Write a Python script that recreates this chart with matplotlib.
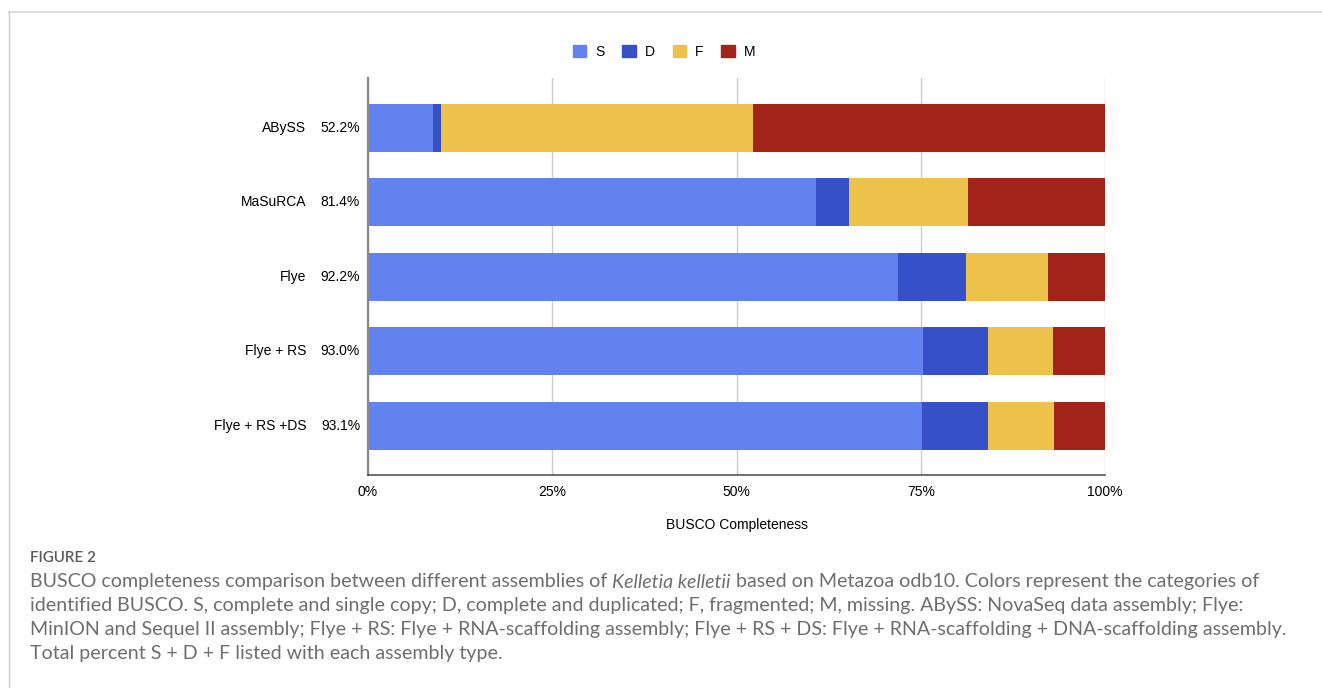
import matplotlib.pyplot as plt
import numpy as np
from matplotlib.lines import Line2D
from matplotlib.patches import Patch

assemblies = ["ABySS", "MaSuRCA", "Flye", "Flye + RS", "Flye + RS +DS"]
totals = ["52.2%", "81.4%", "92.2%", "93.0%", "93.1%"]
s_vals = [8.8, 60.8, 71.9, 75.3, 75.2]
d_vals = [1.1, 4.5, 9.2, 8.8, 8.9]
f_vals = [42.3, 16.1, 11.1, 8.9, 9.0]
m_vals = [47.8, 18.6, 7.8, 7.0, 6.9]
series = ["S", "D", "F", "M"]
colors = ["#6283ef", "#3651c8", "#ecc24a", "#a2231a"]

plt.rcParams['font.family'] = ['Liberation Sans', 'DejaVu Sans']

W, H = 1322, 688
fig = plt.figure(figsize=(W / 100, H / 100), dpi=100)
ax = fig.add_axes([368 / W, 1 - 475 / H, 737 / W, 397 / H])

y = np.arange(len(assemblies))
left = np.zeros(len(assemblies))
for name, vals, c in zip(series, [s_vals, d_vals, f_vals, m_vals], colors):
    ax.barh(y, vals, left=left, height=0.645, color=c, label=name, zorder=2)
    left += np.array(vals)

ax.set_xlim(0, 100)
ax.set_ylim(len(assemblies) - 0.34, -0.67)
ax.set_xticks([0, 25, 50, 75, 100])
ax.set_xticklabels(["0%", "25%", "50%", "75%", "100%"], fontsize=10)
ax.set_yticks([])
ax.tick_params(axis='x', length=0, pad=7)
ax.grid(axis='x', color='#cccccc', linewidth=1, zorder=0)
for sp in ["top", "right"]:
    ax.spines[sp].set_visible(False)
ax.spines["left"].set_color("#888888")
ax.spines["left"].set_linewidth(1.6)
ax.spines["bottom"].set_color("#555555")
ax.spines["bottom"].set_linewidth(1.2)
ax.set_xlabel("BUSCO Completeness", fontsize=10, labelpad=14)

trans = ax.get_yaxis_transform()
for yi, name, tot in zip(y, assemblies, totals):
    ax.text(-62 / 737, yi, name, transform=trans, ha='right', va='center', fontsize=10)
    ax.text(-8 / 737, yi, tot, transform=trans, ha='right', va='center', fontsize=10)

handles = [Patch(color=c) for c in colors]
fig.legend(handles, series, loc='center', bbox_to_anchor=(664 / W, 1 - 52 / H), ncol=4,
           frameon=False, fontsize=10, handlelength=0.95, handleheight=0.95,
           handletextpad=0.65, columnspacing=1.3)

# frame lines
fig.add_artist(Line2D([9 / W, 1], [1 - 12 / H, 1 - 12 / H], color='#dddddd', linewidth=1.5))
fig.add_artist(Line2D([9 / W, 9 / W], [0, 1 - 12 / H], color='#cccccc', linewidth=1))

# caption
cap_font = ['Lato', 'DejaVu Sans']
gray = '#6e6e6e'
x0 = 30 / W
fig.text(x0, 1 - 558 / H, "FIGURE 2", fontsize=11, color='#5a5a5a', family=cap_font,
         weight='semibold', va='center')

fig.canvas.draw()
renderer = fig.canvas.get_renderer()
parts = [("BUSCO completeness comparison between different assemblies of ", 'normal'),
         ("Kelletia kelletii", 'italic'),
         (" based on Metazoa odb10. Colors represent the categories of", 'normal')]
x = x0
for txt, style in parts:
    t = fig.text(x, 1 - 582 / H, txt, fontsize=14.1, color=gray, family=cap_font,
                 style=style, va='center')
    bb = t.get_window_extent(renderer)
    x += bb.width / W

lines = ["identified BUSCO. S, complete and single copy; D, complete and duplicated; F, fragmented; M, missing. ABySS: NovaSeq data assembly; Flye:",
         "MinION and Sequel II assembly; Flye + RS: Flye + RNA-scaffolding assembly; Flye + RS + DS: Flye + RNA-scaffolding + DNA-scaffolding assembly.",
         "Total percent S + D + F listed with each assembly type."]
for i, ln in enumerate(lines):
    fig.text(x0, 1 - (606 + 24 * i) / H, ln, fontsize=14.1, color=gray,
             family=cap_font, va='center')

fig.savefig("out.png", dpi=100)
